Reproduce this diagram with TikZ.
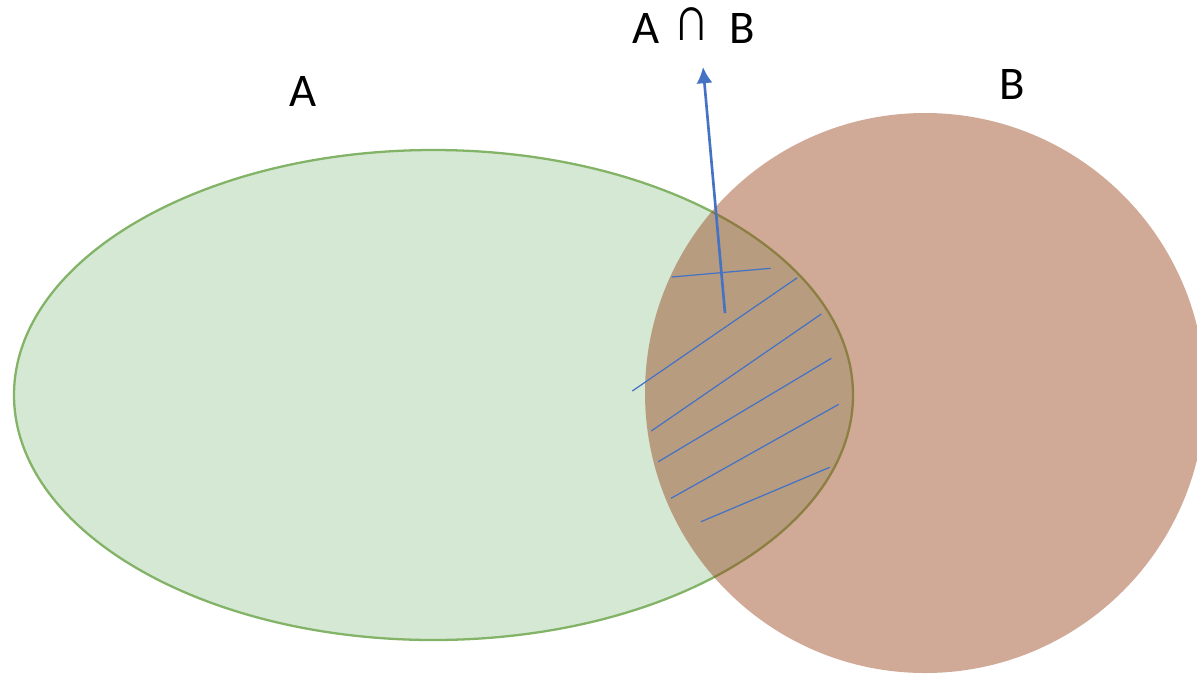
\documentclass[tikz,border=0pt]{standalone}
\usepackage{fontspec}
\setmainfont{Carlito}
\usepackage{tikz}
\usetikzlibrary{arrows.meta}

\definecolor{setAfill}{RGB}{213,232,212}
\definecolor{setAline}{RGB}{130,179,102}
\definecolor{setBfill}{RGB}{150,64,24}
\definecolor{hatchblue}{RGB}{68,114,196}

\begin{document}
\begin{tikzpicture}[
  x=0.01cm, y=-0.01cm,
  setA/.style={fill=setAfill, draw=setAline, line width=0.65pt},
  setB/.style={fill=setBfill, fill opacity=0.45},
  hatch/.style={draw=hatchblue, line width=0.35pt},
  pointer/.style={draw=hatchblue, line width=0.75pt, -{Latex[length=4.6pt,width=4.6pt]}},
  lab/.style={inner sep=0pt, anchor=base, font=\fontsize{13.3}{16}\selectfont}
]
\useasboundingbox (0,0) rectangle (1197,675);

% ===================== Sets =====================
\path[setA] (433.5,395) ellipse [x radius=419.5, y radius=245];
\path[setB] (925,393) circle [radius=280];

% Labels
\node[lab] (labA) at (303,106) {A};
\node[lab] (labB) at (1012,99) {B};
\node[lab] (labAB) at (694,43) {A\hspace{4pt}\raisebox{0.6pt}{\scalebox{1.05}[1.35]{∩}}\hspace{6pt}B};

% ===================== Intersection =====================
% hatch strokes
\draw[hatch] (671.7,277) -- (770.7,268.3);
\draw[hatch] (797.3,277.7) -- (632.3,391);
\draw[hatch] (821.3,314) -- (651.3,431);
\draw[hatch] (831.3,358.3) -- (658.3,461.7);
\draw[hatch] (838.7,404.3) -- (671,498.3);
\draw[hatch] (829.7,467.3) -- (701,521.7);

% pointer to label
\coordinate (ptrStart) at (725,313);
\coordinate (ptrEnd) at (703,67);
\draw[pointer] (ptrStart) -- (ptrEnd);

\end{tikzpicture}
\end{document}
